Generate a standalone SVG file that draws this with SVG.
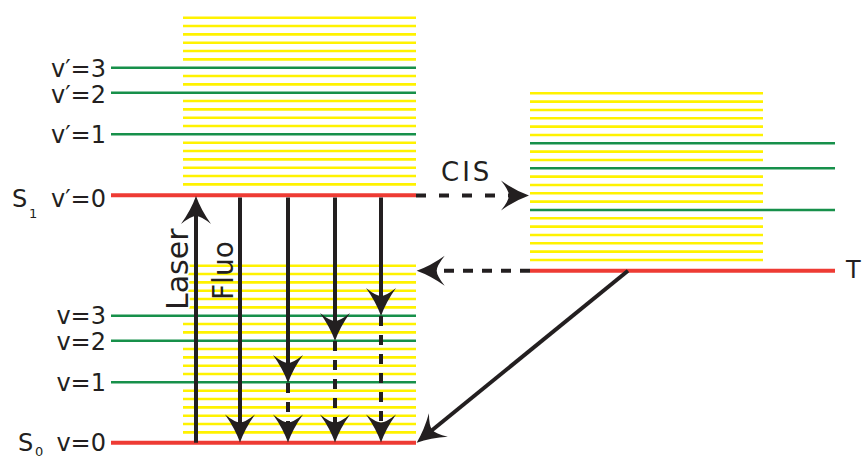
<svg xmlns="http://www.w3.org/2000/svg" width="864" height="460" viewBox="0 0 864 460">
<style>
.y{stroke:#FFF200;stroke-width:2.6}
.g{stroke:#17904A;stroke-width:2.6}
.r{stroke:#EE3B34;stroke-width:4}
.a{stroke:#231F20;stroke-width:4;fill:none;marker-end:url(#ah)}
.d{stroke-dasharray:10 9}
.dc{stroke-dasharray:10 13}
text{font-family:"DejaVu Sans","Liberation Sans",sans-serif;fill:#231F20;font-size:24px}
.sub{font-size:13px}
.end{text-anchor:end}
.halo{stroke:#fff;stroke-width:4;paint-order:stroke;stroke-linejoin:round}
</style>
<defs>
<g id="band" class="y">
<line x1="0" x2="233" y1="0" y2="0"/>
<line x1="0" x2="233" y1="8.33" y2="8.33"/>
<line x1="0" x2="233" y1="16.67" y2="16.67"/>
<line x1="0" x2="233" y1="25" y2="25"/>
<line x1="0" x2="233" y1="33.33" y2="33.33"/>
<line x1="0" x2="233" y1="41.67" y2="41.67"/>
<line x1="0" x2="233" y1="58.33" y2="58.33"/>
<line x1="0" x2="233" y1="66.67" y2="66.67"/>
<line x1="0" x2="233" y1="83.33" y2="83.33"/>
<line x1="0" x2="233" y1="91.67" y2="91.67"/>
<line x1="0" x2="233" y1="100" y2="100"/>
<line x1="0" x2="233" y1="108.33" y2="108.33"/>
<line x1="0" x2="233" y1="125" y2="125"/>
<line x1="0" x2="233" y1="133.33" y2="133.33"/>
<line x1="0" x2="233" y1="141.67" y2="141.67"/>
<line x1="0" x2="233" y1="150" y2="150"/>
<line x1="0" x2="233" y1="158.33" y2="158.33"/>
<line x1="0" x2="233" y1="166.67" y2="166.67"/>
</g>
<marker id="ah" viewBox="-30 -16 32 32" refX="-15" refY="0" markerWidth="32" markerHeight="32" markerUnits="userSpaceOnUse" orient="auto">
<path d="M0,0 Q-14,-5 -28,-15 Q-20,-5 -20,0 Q-20,5 -28,15 Q-14,5 0,0Z" fill="#231F20"/>
</marker>
</defs>

<g id="S1">
<use href="#band" transform="translate(183,17.7)"/>
<line class="g" x1="111" x2="416" y1="67.7" y2="67.7"/>
<line class="g" x1="111" x2="416" y1="92.7" y2="92.7"/>
<line class="g" x1="111" x2="416" y1="134.3" y2="134.3"/>
<line class="r" x1="111" x2="416" y1="195.3" y2="195.3"/>
<text class="end" x="106" y="77">v′=3</text>
<text class="end" x="106" y="103">v′=2</text>
<text class="end" x="106" y="143">v′=1</text>
<text x="12" y="207">S</text>
<text class="sub" x="29" y="218">1</text>
<text class="end" x="106" y="207">v′=0</text>
</g>

<g id="S0">
<use href="#band" transform="translate(183,265.7)"/>
<line class="g" x1="111" x2="416" y1="315.7" y2="315.7"/>
<line class="g" x1="111" x2="416" y1="340.7" y2="340.7"/>
<line class="g" x1="111" x2="416" y1="382.3" y2="382.3"/>
<line class="r" x1="111" x2="416" y1="442.7" y2="442.7"/>
<text class="end" x="106" y="324">v=3</text>
<text class="end" x="106" y="350">v=2</text>
<text class="end" x="106" y="391">v=1</text>
<text x="18" y="451">S</text>
<text class="sub" x="35" y="456">0</text>
<text class="end" x="106" y="451">v=0</text>
</g>

<g id="T1">
<use href="#band" transform="translate(530,93.3)"/>
<line class="g" x1="530" x2="835" y1="143.3" y2="143.3"/>
<line class="g" x1="530" x2="835" y1="168.3" y2="168.3"/>
<line class="g" x1="530" x2="835" y1="210" y2="210"/>
<line class="r" x1="530" x2="835" y1="270.7" y2="270.7"/>
<text x="846" y="278">T</text>
</g>

<g id="labels">
<text class="halo" style="font-size:30px" transform="translate(188,310) rotate(-90)">Laser</text>
<text style="font-size:28px" transform="translate(233,300) rotate(-90)">Fluo</text>
<text x="441" y="181" style="font-size:26px;letter-spacing:3px">CIS</text>
</g>

<g id="connectors">
<path class="a" d="M196,442.7 V211"/>
<path class="a" d="M240,197.5 V427.5"/>
<path class="a" d="M288,197.5 V368"/>
<path class="a d" d="M288,383 V427.5"/>
<path class="a" d="M335,197.5 V326"/>
<path class="a d" d="M335,341 V427.5"/>
<path class="a" d="M381,197.5 V301"/>
<path class="a d" d="M381,316 V427.5"/>
<path class="a dc" d="M416,195.5 H514"/>
<path class="a d" d="M530,270.7 H431.7"/>
<path class="a" d="M628,270.7 L428.3,433.2"/>
</g>
</svg>
